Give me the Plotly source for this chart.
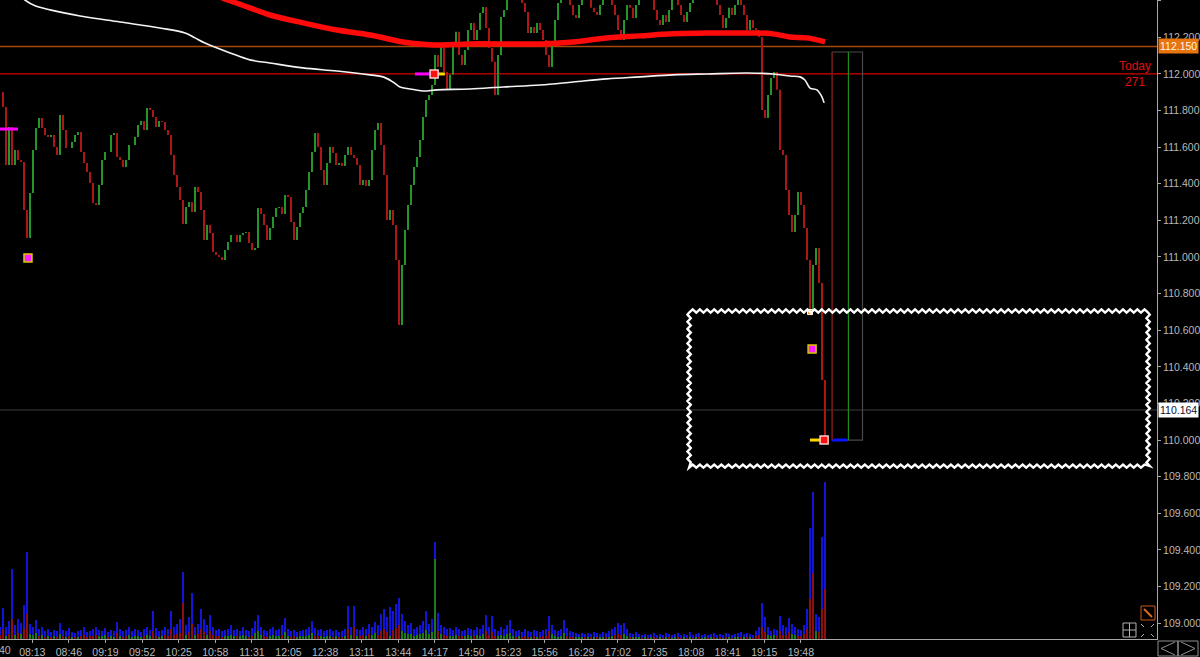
import plotly.graph_objects as go

# ---------------- data ----------------
# price path, one value per bar (bar index = time slot)
price_path = [
    111.902, 111.820, 111.503, 111.710, 111.503, 111.585, 111.530, 111.519, 111.257, 111.104,
    111.350, 111.585, 111.705, 111.760, 111.705, 111.667, 111.656, 111.667, 111.601, 111.557,
    111.776, 111.694, 111.596, 111.596, 111.628, 111.667, 111.683, 111.574, 111.514, 111.464,
    111.404, 111.295, 111.284, 111.393, 111.530, 111.574, 111.574, 111.667, 111.678, 111.546,
    111.530, 111.492, 111.530, 111.612, 111.612, 111.656, 111.721, 111.743, 111.694, 111.814,
    111.803, 111.765, 111.710, 111.743, 111.738, 111.694, 111.667, 111.557, 111.448, 111.383,
    111.311, 111.180, 111.273, 111.300, 111.246, 111.383, 111.355, 111.257, 111.093, 111.175,
    111.131, 111.027, 111.011, 111.000, 110.984, 111.038, 111.082, 111.120, 111.120, 111.082,
    111.120, 111.131, 111.137, 111.077, 111.038, 111.049, 111.268, 111.235, 111.175, 111.093,
    111.158, 111.219, 111.268, 111.273, 111.235, 111.339, 111.328, 111.191, 111.093, 111.164,
    111.240, 111.273, 111.366, 111.464, 111.574, 111.678, 111.601, 111.475, 111.393, 111.514,
    111.601, 111.568, 111.503, 111.514, 111.497, 111.557, 111.601, 111.557, 111.541, 111.503,
    111.393, 111.421, 111.388, 111.421, 111.585, 111.694, 111.732, 111.612, 111.448, 111.202,
    111.257, 111.175, 110.984, 110.628, 110.956, 111.148, 111.284, 111.393, 111.492, 111.546,
    111.639, 111.765, 111.858, 111.885, 111.940, 112.104, 112.038, 112.148, 112.011, 111.913,
    111.995, 112.148, 112.230, 112.104, 112.049, 112.131, 112.240, 112.279, 112.186, 112.240,
    112.333, 112.366, 112.251, 112.142, 112.066, 111.885, 112.104, 112.311, 112.350, 112.404,
    112.432, 112.421, 112.448, 112.421, 112.388, 112.339, 112.224, 112.257, 112.224, 112.279,
    112.240, 112.186, 112.104, 112.038, 112.169, 112.295, 112.388, 112.432, 112.459, 112.432,
    112.377, 112.322, 112.306, 112.377, 112.432, 112.448, 112.404, 112.361, 112.339, 112.322,
    112.377, 112.432, 112.459, 112.432, 112.377, 112.322, 112.240, 112.186, 112.295, 112.377,
    112.361, 112.306, 112.377, 112.432, 112.459, 112.470, 112.448, 112.404, 112.350, 112.295,
    112.268, 112.322, 112.284, 112.350, 112.404, 112.432, 112.377, 112.322, 112.284, 112.339,
    112.388, 112.432, 112.459, 112.470, 112.448, 112.459, 112.432, 112.448, 112.421, 112.377,
    112.322, 112.251, 112.306, 112.361, 112.322, 112.377, 112.404, 112.377, 112.322, 112.240,
    112.295, 112.251, 112.240, 112.202, 111.803, 111.760, 111.885, 111.978, 112.011, 111.913,
    111.585, 111.557, 111.366, 111.230, 111.137, 111.230, 111.355, 111.284, 111.158, 110.984,
    110.710, 110.956, 111.049, 110.858, 110.328, 110.000,
]

volume = [
    12, 31, 12, 18, 70, 14, 20, 16, 34, 87,
    15, 12, 19, 10, 12, 8, 10, 7, 9, 8,
    16, 9, 8, 11, 7, 6, 8, 9, 12, 7,
    8, 10, 12, 9, 8, 11, 7, 9, 8, 17,
    10, 8, 9, 12, 8, 10, 9, 7, 10, 12,
    9, 28, 11, 8, 9, 12, 10, 28, 12, 15,
    20, 67, 14, 22, 46, 12, 15, 30, 20, 14,
    24, 12, 9, 10, 8, 9, 10, 14, 9, 10,
    8, 12, 9, 8, 11, 18, 24, 12, 9, 8,
    10, 12, 9, 10, 14, 21, 10, 8, 9, 7,
    8, 9, 10, 12, 18, 11, 9, 10, 8, 9,
    10, 8, 9, 7, 8, 10, 33, 12, 33, 10,
    9, 12, 10, 15, 12, 17, 14, 25, 30, 22,
    32, 28, 35, 41, 25, 18, 14, 16, 10, 12,
    14, 18, 28, 15, 20, 97, 26, 14, 12, 10,
    11, 9, 12, 10, 8, 9, 11, 10, 9, 12,
    10, 14, 24, 12, 23, 10, 8, 12, 10, 14,
    19, 10, 8, 9, 7, 10, 8, 7, 9, 8,
    7, 9, 10, 23, 14, 9, 8, 10, 19, 11,
    8, 7, 6, 5, 6, 5, 6, 5, 7, 6,
    5, 7, 6, 8, 10, 12, 16, 14, 16, 10,
    6, 5, 7, 5, 4, 5, 4, 5, 6, 4,
    5, 4, 6, 5, 4, 5, 6, 4, 5, 4,
    7, 4, 5, 6, 4, 5, 4, 5, 6, 4,
    5, 4, 6, 5, 4, 5, 6, 7, 5, 6,
    5, 4, 8, 12, 36, 22, 12, 8, 10, 9,
    23, 14, 12, 21, 15, 12, 10, 9, 14, 30,
    111, 147, 25, 22, 102, 157,
]

# signed delta portion of each volume bar (+ buy / - sell)
vol_delta = [
    -4, -10, 3, -5, -20, 4, -6, 5, -10, -25,
    5, 4, 6, -3, 4, -2, 3, -2, 3, -2,
    5, -3, 2, -3, 2, -2, 2, -3, -4, -2,
    -3, -3, -4, 3, 3, 4, -2, 3, 2, -6,
    3, -2, -3, 4, 2, 3, 3, 2, -3, 4,
    3, -8, -3, 2, 3, -4, -3, -10, -4, -5,
    -6, -36, 4, -7, -15, 4, -5, -10, -7, 4,
    -8, -4, -3, -3, -2, 3, 3, 4, 3, -3,
    3, 4, 3, -2, -3, 6, 8, 4, -3, -2,
    3, 4, 3, 3, -4, 7, 3, -2, -3, 2,
    3, 3, 3, 4, 6, -3, -3, 3, 2, 3,
    3, -2, 3, -2, -2, 3, -10, 4, -12, 3,
    -3, -4, 3, -5, 4, 6, -4, -8, -10, -7,
    3, -9, -11, -14, 8, 6, 5, 5, 3, 4,
    5, 6, 9, 5, 7, 80, -8, 5, -4, -3,
    3, 3, 4, -3, -3, 3, 4, 3, -3, 4,
    3, 5, -8, -4, -7, -3, 3, 4, 3, 5,
    6, 3, -2, 3, -2, -3, -2, 2, -3, 2,
    -2, -3, -3, -8, 5, 3, 2, 3, 6, -3,
    -2, -2, 2, 2, 2, -2, 2, -2, 2, -2,
    2, 2, -2, 2, 3, -4, -5, -4, 5, 3,
    -2, 2, 2, 2, -1, 2, -1, 2, -2, -1,
    2, -1, 2, -2, 1, 2, -2, -1, 2, -1,
    2, -1, 2, -2, 1, 2, -1, 2, -2, 1,
    -2, 1, -2, 2, -1, 2, 2, -2, 2, -2,
    2, -1, -3, -4, -12, -7, 4, 3, 4, -3,
    -8, -4, -4, -7, 5, 4, -3, -3, -5, -10,
    -40, -66, 8, -7, -30, -50,
]

time_labels = ["08:13", "08:46", "09:19", "09:52", "10:25", "10:58", "11:31", "12:05",
               "12:38", "13:11", "13:44", "14:17", "14:50", "15:23", "15:56", "16:29",
               "17:02", "17:35", "18:08", "18:41", "19:15", "19:48"]

price_ticks = [109.0, 109.2, 109.4, 109.6, 109.8, 110.0, 110.2, 110.4, 110.6, 110.8,
               111.0, 111.2, 111.4, 111.6, 111.8, 112.0, 112.2, 112.4]

# thick red moving average
ma_x = [63.3, 76, 83.3, 90, 101, 112.3, 123.3, 134.3, 140, 145.7, 156.7, 180, 191,
        202.3, 213.3, 224.3, 235.7, 246.7, 252.3, 257.7, 263.3, 269, 275]
ma_y = [112.486, 112.404, 112.361, 112.322, 112.279, 112.240, 112.213, 112.175, 112.164,
        112.158, 112.164, 112.164, 112.175, 112.197, 112.208, 112.219, 112.224, 112.224,
        112.224, 112.219, 112.202, 112.197, 112.175]

# white VWAP curve
vwap_x = [5, 8.3, 11.7, 16.7, 26.7, 40, 53.3, 61.7, 65, 68.3, 76.7, 83.3, 90, 101, 112.3,
          123.3, 127.7, 131, 133.3, 136.7, 141, 145.7, 156.7, 167.7, 180, 191, 202.3,
          213.3, 224.3, 235.7, 249, 257.7, 263.3, 266.7, 268.3, 270, 272.3, 274, 274.7]
vwap_y = [112.450, 112.404, 112.372, 112.350, 112.317, 112.284, 112.251, 112.224, 112.197,
          112.169, 112.115, 112.077, 112.060, 112.033, 112.016, 111.995, 111.984, 111.956,
          111.929, 111.918, 111.907, 111.913, 111.918, 111.929, 111.940, 111.956, 111.973,
          111.984, 111.995, 112.000, 112.005, 112.000, 111.989, 111.984, 111.967, 111.923,
          111.913, 111.874, 111.842]

level_orange = 112.150
level_red = 112.000
level_last = 110.164

# signal markers
magenta_sq_x = [9.33, 270.7]
magenta_sq_y = [110.995, 110.497]
red_sq_x = [144.7, 274.7]
red_sq_y = [112.000, 110.000]
orange_sq_x = [270.0]
orange_sq_y = [110.699]
magenta_seg = [(0.0, 6.0, 111.699), (138.3, 143.3, 112.000)]
yellow_seg = [(145.7, 148.3, 112.000), (270.0, 273.7, 110.000)]
blue_seg = [(277.3, 282.3, 110.000)]

# today profile box
box_x0, box_x1, box_low, box_high = 277.4, 287.5, 110.000, 112.120
box_green_x = 282.8

# zigzag highlight frame
zig_x0, zig_x1, zig_low, zig_high = 229.7, 382.7, 109.858, 110.705

# ---------------- figure ----------------
n = len(price_path)
bar_x = list(range(n))
bar_open = [price_path[0]] + price_path[:-1]
bar_close = price_path
bar_high = [max(o, c) for o, c in zip(bar_open, bar_close)]
bar_low = [min(o, c) for o, c in zip(bar_open, bar_close)]

GREEN = "#22962a"
RED = "#ad1616"
FONT = "Liberation Sans"
TXT = "#b8b8b8"

fig = go.Figure()

# volume
fig.add_trace(go.Bar(x=bar_x, y=volume, yaxis="y2", marker_color="#1414d8",
                     marker_line_width=0, width=0.8, showlegend=False))
fig.add_trace(go.Bar(x=bar_x, y=[abs(v) for v in vol_delta], yaxis="y2",
                     marker_color=["#1c7a1c" if v > 0 else "#8c1010" for v in vol_delta],
                     marker_line_width=0, width=0.8, showlegend=False))

# moving average and vwap
fig.add_trace(go.Scatter(x=ma_x, y=ma_y, mode="lines", line=dict(color="#ff0a0a", width=5.5),
                         showlegend=False, line_shape="spline"))
fig.add_trace(go.Scatter(x=vwap_x, y=vwap_y, mode="lines", line=dict(color="#f4f4f4", width=1.6),
                         showlegend=False, line_shape="spline"))

# price bars
fig.add_trace(go.Ohlc(x=bar_x, open=bar_open, high=bar_high, low=bar_low, close=bar_close,
                      increasing=dict(line=dict(color=GREEN, width=2)),
                      decreasing=dict(line=dict(color=RED, width=2)),
                      tickwidth=0, showlegend=False))

# segments
for (a, b, y) in magenta_seg:
    fig.add_trace(go.Scatter(x=[a, b], y=[y, y], mode="lines", line=dict(color="#ff00ff", width=3),
                             showlegend=False))
for (a, b, y) in yellow_seg:
    fig.add_trace(go.Scatter(x=[a, b], y=[y, y], mode="lines", line=dict(color="#ffd800", width=3),
                             showlegend=False))
for (a, b, y) in blue_seg:
    fig.add_trace(go.Scatter(x=[a, b], y=[y, y], mode="lines", line=dict(color="#0a14ff", width=3),
                             showlegend=False))

# profile box lines
fig.add_trace(go.Scatter(x=[box_x0, box_x0], y=[box_low, box_high], mode="lines",
                         line=dict(color="#7a1010", width=1.2), showlegend=False))
fig.add_trace(go.Scatter(x=[box_green_x, box_green_x], y=[box_low, box_high], mode="lines",
                         line=dict(color="#1c8a1c", width=1.2), showlegend=False))

# markers
fig.add_trace(go.Scatter(x=magenta_sq_x, y=magenta_sq_y, mode="markers",
                         marker=dict(symbol="square", size=8, color="#ff20ff",
                                     line=dict(color="#d8c800", width=1.5)), showlegend=False))
fig.add_trace(go.Scatter(x=red_sq_x, y=red_sq_y, mode="markers",
                         marker=dict(symbol="square", size=8, color="#ff1010",
                                     line=dict(color="#ffd0d0", width=1.5)), showlegend=False))
fig.add_trace(go.Scatter(x=orange_sq_x, y=orange_sq_y, mode="markers",
                         marker=dict(symbol="square", size=5, color="#ff9020",
                                     line=dict(color="#ffffff", width=1)), showlegend=False))

# zigzag frame path
def zigzag_path(x0, x1, y0, y1, hx, hy, ax, ay):
    pts = []
    nx = int(round((x1 - x0) / hx))
    ny = int(round((y1 - y0) / hy))
    for k in range(nx + 1):
        pts.append((x0 + (x1 - x0) * k / nx, y1 + (ay if k % 2 else -ay)))
    for k in range(1, ny + 1):
        pts.append((x1 + (ax if k % 2 else -ax), y1 - (y1 - y0) * k / ny))
    for k in range(1, nx + 1):
        pts.append((x1 - (x1 - x0) * k / nx, y0 + (ay if k % 2 else -ay)))
    for k in range(1, ny):
        pts.append((x0 + (ax if k % 2 else -ax), y0 + (y1 - y0) * k / ny))
    return "M " + " L ".join(f"{x:.3f},{y:.4f}" for x, y in pts) + " Z"

shapes = []
# horizontal levels
shapes.append(dict(type="line", xref="paper", x0=0, x1=1, yref="y", y0=level_orange, y1=level_orange,
                   line=dict(color="#a8460c", width=1.6), layer="below"))
shapes.append(dict(type="line", xref="paper", x0=0, x1=1, yref="y", y0=level_red, y1=level_red,
                   line=dict(color="#d40000", width=1.2), layer="below"))
shapes.append(dict(type="line", xref="paper", x0=0, x1=1, yref="y", y0=level_last, y1=level_last,
                   line=dict(color="#3c3c3c", width=1.2), layer="below"))
# profile box
shapes.append(dict(type="rect", xref="x", yref="y", x0=box_x0, x1=box_x1, y0=box_low, y1=box_high,
                   line=dict(color="#4a4a4a", width=1.2), layer="below"))
# zigzag frame
shapes.append(dict(type="path", xref="x", yref="y",
                   path=zigzag_path(zig_x0, zig_x1, zig_low, zig_high, 1.2, 0.0195, 0.55, 0.0085),
                   line=dict(color="#ffffff", width=2.4)))

# small toolbar icons (pixel positions converted to paper)
PW, PH = 1157.0, 639.0
def P(px, py):
    return px / PW, 1 - py / PH
def prect(x0, y0, x1, y1, color, width=1):
    a, b = P(x0, y0); c, d = P(x1, y1)
    return dict(type="rect", xref="paper", yref="paper", x0=a, y0=d, x1=c, y1=b,
                line=dict(color=color, width=width))
def pline(x0, y0, x1, y1, color, width=1):
    a, b = P(x0, y0); c, d = P(x1, y1)
    return dict(type="line", xref="paper", yref="paper", x0=a, y0=b, x1=c, y1=d,
                line=dict(color=color, width=width))

shapes.append(prect(1123, 623, 1136, 637, "#b0b0b0"))
shapes.append(pline(1129.5, 623, 1129.5, 637, "#b0b0b0"))
shapes.append(pline(1123, 630, 1136, 630, "#b0b0b0"))
for (x0, y0, x1, y1) in [(1141, 624, 1144, 627), (1154, 624, 1151, 627),
                         (1141, 637, 1144, 634), (1154, 637, 1151, 634)]:
    shapes.append(pline(x0, y0, x1, y1, "#b0b0b0"))
shapes.append(prect(1141, 606, 1155, 620, "#c8561a"))
shapes.append(pline(1144, 609, 1152, 617, "#d86a20", 2))
shapes.append(prect(1158, 641, 1178, 656, "#909090"))
shapes.append(prect(1178, 641, 1198, 656, "#909090"))
shapes.append(pline(1175, 642, 1161, 648.5, "#909090"))
shapes.append(pline(1161, 648.5, 1175, 655, "#909090"))
shapes.append(pline(1181, 642, 1195, 648.5, "#909090"))
shapes.append(pline(1195, 648.5, 1181, 655, "#909090"))

annotations = [
    dict(text="Today", xref="paper", x=1135 / PW, yref="y", y=112.046, showarrow=False,
         font=dict(family=FONT, size=12, color="#e01010"), xanchor="center", yanchor="middle"),
    dict(text="271", xref="paper", x=1135 / PW, yref="y", y=111.956, showarrow=False,
         font=dict(family=FONT, size=12, color="#e01010"), xanchor="center", yanchor="middle"),
    dict(text="112.150", xref="paper", x=1.0, yref="y", y=level_orange, showarrow=False,
         xanchor="left", yanchor="middle", bgcolor="#e8740e", borderpad=1, xshift=1,
         font=dict(family=FONT, size=10.5, color="#fff4e8")),
    dict(text="110.164", xref="paper", x=1.0, yref="y", y=level_last, showarrow=False,
         xanchor="left", yanchor="middle", bgcolor="#ffffff", borderpad=1, xshift=1,
         font=dict(family=FONT, size=10.5, color="#101030")),
    dict(text="40", xref="paper", x=0, yref="paper", y=0, showarrow=False,
         xanchor="left", yanchor="top", yshift=-3, xshift=-3,
         font=dict(family=FONT, size=10.5, color=TXT)),
]

tick_idx = [(32.3 + 36.6 * k) / 3 for k in range(len(time_labels))]

fig.update_layout(
    width=1200, height=657,
    margin=dict(l=0, r=43, t=0, b=18),
    paper_bgcolor="#000000", plot_bgcolor="#000000",
    barmode="overlay", bargap=0,
    showlegend=False,
    shapes=shapes, annotations=annotations,
    font=dict(family=FONT, size=10.5, color=TXT),
    xaxis=dict(range=[0, PW / 3], tickvals=tick_idx, ticktext=time_labels,
               showgrid=False, zeroline=False, showline=True, linecolor="#a8a8a8", linewidth=1,
               ticks="outside", ticklen=3, tickcolor="#a8a8a8",
               tickfont=dict(family=FONT, size=10.5, color=TXT),
               rangeslider=dict(visible=False), fixedrange=True),
    yaxis=dict(range=[108.913, 112.404], side="right", tickvals=price_ticks,
               ticktext=[f"{v:.3f}" for v in price_ticks],
               showgrid=False, zeroline=False, showline=True, linecolor="#a8a8a8", linewidth=1,
               ticks="outside", ticklen=3, tickcolor="#a8a8a8",
               tickfont=dict(family=FONT, size=10.5, color=TXT)),
    yaxis2=dict(range=[0, 639], overlaying="y", visible=False),
)

fig.write_html("out.html", config={"displayModeBar": False},
               post_script="document.body.style.margin='0px';document.body.style.background='#000';")
